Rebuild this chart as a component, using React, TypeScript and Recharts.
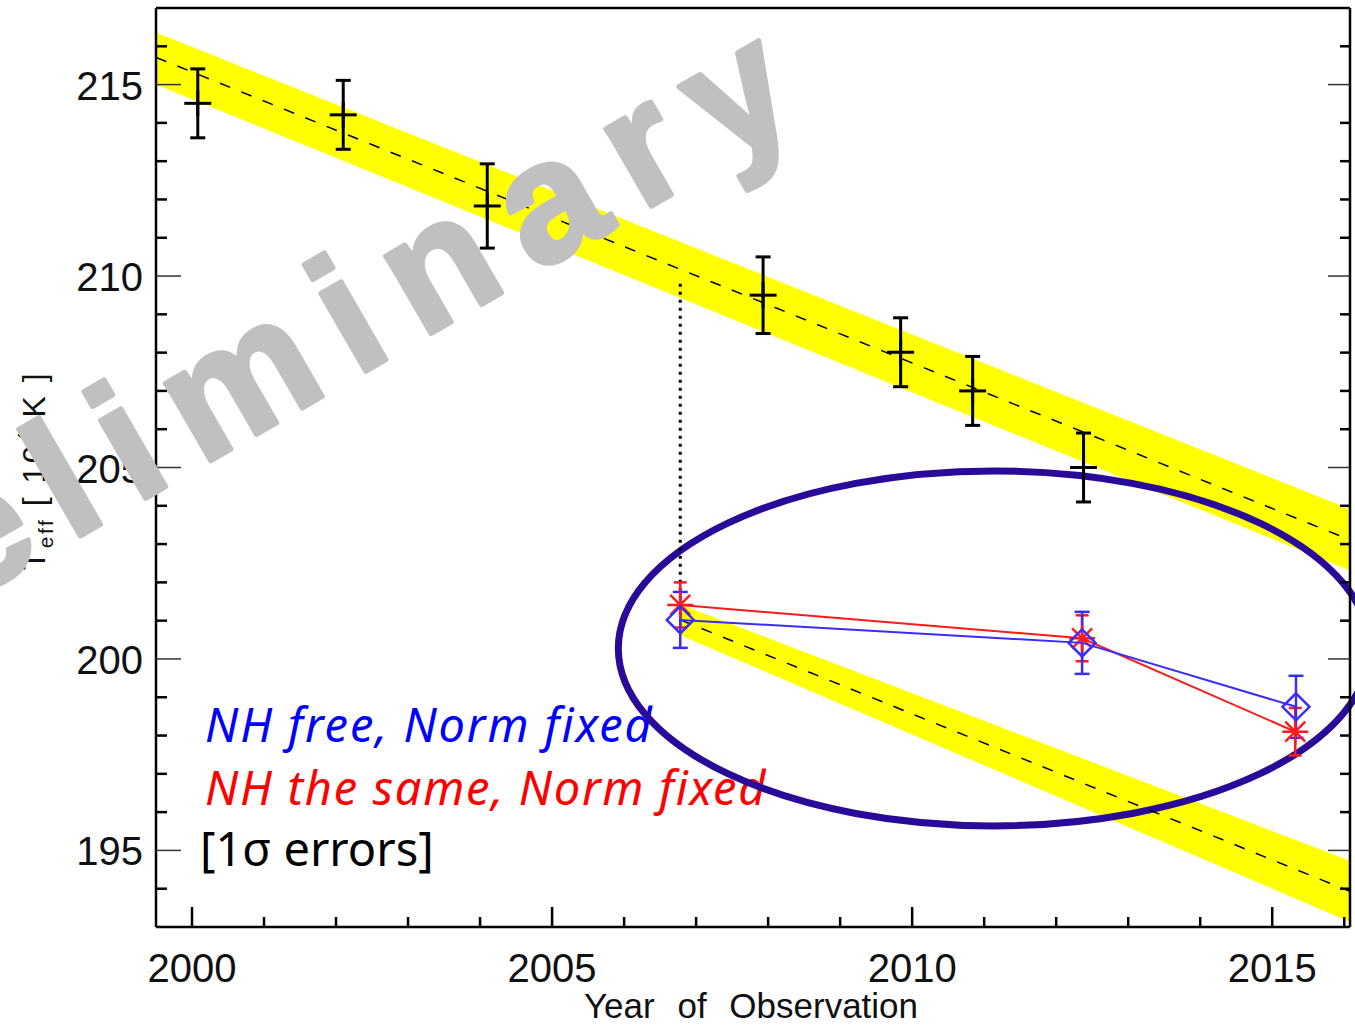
import React from 'react';
import {
  ComposedChart, XAxis, YAxis, Line, Area, Scatter, ErrorBar, ReferenceLine, ReferenceArea,
} from 'recharts';

const W = 1355;
const H = 1026;

// axis ticks
const yearTicks = [2000, 2001, 2002, 2003, 2004, 2005, 2006, 2007, 2008, 2009, 2010, 2011, 2012, 2013, 2014, 2015, 2016];
const teffTicks = [194, 195, 196, 197, 198, 199, 200, 201, 202, 203, 204, 205, 206, 207, 208, 209, 210, 211, 212, 213, 214, 215, 216];

// black points (all observations)
const obsYears = [2000.08, 2002.1, 2004.1, 2007.93, 2009.84, 2010.84, 2012.38];
const obsTeff = [214.51, 214.21, 211.83, 209.5, 208.01, 207.0, 205.0];
const obsErr = [0.9, 0.9, 1.1, 1.0, 0.9, 0.9, 0.9];

// NH free, Norm fixed (blue)
const freeYears = [2006.78, 2012.36, 2015.33];
const freeTeff = [201.02, 200.42, 198.75];
const freeErr = [0.73, 0.81, 0.81];

// NH the same, Norm fixed (red)
const sameYears = [2006.78, 2012.36, 2015.32];
const sameTeff = [201.41, 200.54, 198.1];
const sameErr = [0.59, 0.6, 0.62];

// linear fit + band
const upperYears = [1999.5, 2016.08];
const upperFit = [215.71, 203.11];
const upperLo = [215.0, 202.31];
const upperHi = [216.36, 203.91];

// same fit shifted to the 2006 point
const lowerYears = [2006.78, 2016.08];
const lowerFit = [201.02, 193.93];
const lowerLo = [200.62, 193.13];
const lowerHi = [201.42, 194.73];

// dotted drop line and the circled region
const dropYear = 2006.78;
const dropFrom = 209.8;
const dropTo = 201.0;
const ringYears = [2005.92, 2016.35];
const ringTeff = [195.64, 204.91];

const X_DOMAIN = [1999.5, 2016.08];
const Y_DOMAIN = [193, 217];

const pts = (xs: number[], ys: number[], es: number[]) =>
  xs.map((year, i) => ({ year, v: ys[i], e: es[i] }));

const fitRows = (() => {
  const years = Array.from(new Set([...upperYears, ...lowerYears])).sort((a, b) => a - b);
  return years.map((year) => {
    const row: any = { year };
    const i = upperYears.indexOf(year);
    if (i >= 0) {
      row.fit = upperFit[i];
      row.band = [upperLo[i], upperHi[i]];
    }
    const j = lowerYears.indexOf(year);
    if (j >= 0) {
      row.fit2 = lowerFit[j];
      row.band2 = [lowerLo[j], lowerHi[j]];
    }
    return row;
  });
})();

const tickFont = {
  fontFamily: '"Liberation Sans", Arial, sans-serif',
  fontSize: 40,
  fill: '#111',
};

const BottomTick = ({ x, y, payload }: any) => {
  const major = payload.value % 5 === 0;
  return (
    <g>
      <line x1={x} x2={x} y1={y} y2={y - (major ? 20 : 10)} stroke="#000" strokeWidth={2.5} />
      {major && (
        <text x={x} y={y + 55} textAnchor="middle" {...tickFont}>{payload.value}</text>
      )}
    </g>
  );
};

const TopTick = ({ x, y, payload }: any) => {
  const major = payload.value % 5 === 0;
  return <line x1={x} x2={x} y1={y} y2={y + (major ? 19 : 8)} stroke="#000" strokeWidth={2.5} />;
};

const LeftTick = ({ x, y, payload }: any) => {
  const major = payload.value % 5 === 0;
  return (
    <g>
      <line
        x1={x} x2={x + (major ? 25 : 11)} y1={y} y2={y}
        stroke={major ? '#333' : '#000'} strokeWidth={major ? 1.5 : 2.5}
      />
      {major && (
        <text x={x - 13} y={y + 15} textAnchor="end" {...tickFont}>{payload.value}</text>
      )}
    </g>
  );
};

const RightTick = ({ x, y, payload }: any) => {
  const major = payload.value % 5 === 0;
  return (
    <line
      x1={x} x2={x - (major ? 22 : 10)} y1={y} y2={y}
      stroke={major ? '#333' : '#000'} strokeWidth={major ? 1.5 : 2.5}
    />
  );
};

const PlusMark = ({ cx, cy }: any) => (
  <g stroke="#000" strokeWidth={3}>
    <line x1={cx - 13.5} x2={cx + 13.5} y1={cy} y2={cy} />
    <line x1={cx} x2={cx} y1={cy - 13} y2={cy + 13} />
  </g>
);

const DiamondMark = ({ cx, cy }: any) => (
  <path
    d={`M${cx},${cy - 13.5}L${cx + 13.5},${cy}L${cx},${cy + 13.5}L${cx - 13.5},${cy}Z`}
    fill="none" stroke="#3a2bff" strokeWidth={2.5}
  />
);

const StarMark = ({ cx, cy }: any) => (
  <g stroke="#ff1a1a" strokeWidth={2.5}>
    <line x1={cx - 13} x2={cx + 13} y1={cy} y2={cy} />
    <line x1={cx} x2={cx} y1={cy - 13} y2={cy + 13} />
    <line x1={cx - 10} x2={cx + 10} y1={cy - 10} y2={cy + 10} />
    <line x1={cx - 10} x2={cx + 10} y1={cy + 10} y2={cy - 10} />
  </g>
);

const Ring = ({ x, y, width, height }: any) => (
  <ellipse
    cx={x + width / 2} cy={y + height / 2} rx={Math.abs(width) / 2} ry={Math.abs(height) / 2}
    fill="none" stroke="#2a0a98" strokeWidth={7}
  />
);

const XTitle = ({ viewBox }: any) => (
  <text
    x={viewBox.x + viewBox.width / 2 - 2} y={viewBox.y + viewBox.height - 8}
    textAnchor="middle" fontFamily='"Liberation Sans", Arial, sans-serif'
    fontSize={35} fill="#111" style={{ wordSpacing: 13 }}
  >
    Year of Observation
  </text>
);

const YTitle = ({ viewBox }: any) => {
  const x = viewBox.x + 45;
  const y = viewBox.y + viewBox.height / 2 + 3;
  return (
    <text
      x={x} y={y} transform={`rotate(-90, ${x}, ${y})`} textAnchor="middle"
      fontFamily='"Liberation Sans", Arial, sans-serif' fontSize={32} fill="#111"
      style={{ letterSpacing: 2.5 }}
    >
      T
      <tspan fontSize={21} dy={8}>eff</tspan>
      <tspan dy={-8}> [ 10</tspan>
      <tspan fontSize={21} dy={-13}>4</tspan>
      <tspan dy={13}> K ]</tspan>
    </text>
  );
};

export default function App() {
  const legendFont = '"Noto Sans", "Open Sans", sans-serif';
  return (
    <div style={{ position: 'absolute', left: 0, top: 0, width: W, height: H, background: '#fff', overflow: 'hidden' }}>
      <svg width={W} height={H} style={{ position: 'absolute', left: 0, top: 0 }}>
        <text
          x={205} y={742} fontFamily={legendFont} fontStyle="italic" fontSize={47} fill="#0000ff"
          style={{ letterSpacing: 1.9 }}
        >
          NH free, Norm fixed
        </text>
        <text
          x={205} y={805} fontFamily={legendFont} fontStyle="italic" fontSize={47} fill="#ff0000"
          style={{ letterSpacing: 1.7 }}
        >
          NH the same, Norm fixed
        </text>
        <text x={200} y={866} fontFamily={legendFont} fontSize={47} fill="#000">
          [1σ errors]
        </text>
      </svg>

      <div style={{ position: 'absolute', left: 0, top: 0 }}>
        <ComposedChart width={W} height={H} data={fitRows} margin={{ top: 7, right: 4, bottom: 0, left: 0 }}>
          <XAxis
            xAxisId="b" dataKey="year" type="number" domain={X_DOMAIN} allowDataOverflow
            ticks={yearTicks} interval={0} height={99} tickSize={0} tickMargin={0} tickLine={false}
            axisLine={{ stroke: '#000', strokeWidth: 2.5 }} tick={<BottomTick />}
            label={{ content: (p: any) => <XTitle {...p} /> }}
          />
          <XAxis
            xAxisId="t" orientation="top" type="number" domain={X_DOMAIN} allowDataOverflow
            ticks={yearTicks} interval={0} height={1} tickSize={0} tickMargin={0} tickLine={false}
            axisLine={{ stroke: '#000', strokeWidth: 2.5 }} tick={<TopTick />}
          />
          <YAxis
            yAxisId="l" type="number" domain={Y_DOMAIN} allowDataOverflow
            ticks={teffTicks} interval={0} width={156} tickSize={0} tickMargin={0} tickLine={false}
            axisLine={{ stroke: '#000', strokeWidth: 2.5 }} tick={<LeftTick />}
            label={{ content: (p: any) => <YTitle {...p} /> }}
          />
          <YAxis
            yAxisId="r" orientation="right" type="number" domain={Y_DOMAIN} allowDataOverflow
            ticks={teffTicks} interval={0} width={1} tickSize={0} tickMargin={0} tickLine={false}
            axisLine={{ stroke: '#000', strokeWidth: 2.5 }} tick={<RightTick />}
          />

          <Area
            xAxisId="b" yAxisId="l" dataKey="band" type="linear" connectNulls
            fill="#ffff00" fillOpacity={1} stroke="none" isAnimationActive={false}
          />
          <Area
            xAxisId="b" yAxisId="l" dataKey="band2" type="linear" connectNulls
            fill="#ffff00" fillOpacity={1} stroke="none" isAnimationActive={false}
          />
          <Line
            xAxisId="b" yAxisId="l" dataKey="fit" type="linear" connectNulls dot={false}
            stroke="#000" strokeWidth={1.5} strokeDasharray="11 12" isAnimationActive={false}
          />
          <Line
            xAxisId="b" yAxisId="l" dataKey="fit2" type="linear" connectNulls dot={false}
            stroke="#000" strokeWidth={1.5} strokeDasharray="11 12" isAnimationActive={false}
          />
          <ReferenceLine
            xAxisId="b" yAxisId="l" ifOverflow="visible"
            segment={[{ x: dropYear, y: dropFrom }, { x: dropYear, y: dropTo }]}
            stroke="#000" strokeWidth={3} strokeDasharray="3 5"
          />
          <ReferenceArea
            xAxisId="b" yAxisId="l" ifOverflow="visible"
            x1={ringYears[0]} x2={ringYears[1]} y1={ringTeff[0]} y2={ringTeff[1]}
            shape={(p: any) => <Ring {...p} />}
          />

          <Scatter
            xAxisId="b" yAxisId="l" data={pts(sameYears, sameTeff, sameErr)} dataKey="v"
            line={{ stroke: '#ff1a1a', strokeWidth: 2 }} shape={<StarMark />} isAnimationActive={false}
          >
            <ErrorBar dataKey="e" direction="y" width={6.5} stroke="#ff1a1a" strokeWidth={2.5} />
          </Scatter>
          <Scatter
            xAxisId="b" yAxisId="l" data={pts(freeYears, freeTeff, freeErr)} dataKey="v"
            line={{ stroke: '#3a2bff', strokeWidth: 2 }} shape={<DiamondMark />} isAnimationActive={false}
          >
            <ErrorBar dataKey="e" direction="y" width={7.5} stroke="#3a2bff" strokeWidth={2.5} />
          </Scatter>
          <Scatter
            xAxisId="b" yAxisId="l" data={pts(obsYears, obsTeff, obsErr)} dataKey="v"
            shape={<PlusMark />} isAnimationActive={false}
          >
            <ErrorBar dataKey="e" direction="y" width={7.5} stroke="#000" strokeWidth={3} />
          </Scatter>
        </ComposedChart>
      </div>

      <svg width={W} height={H} style={{ position: 'absolute', left: 0, top: 0, pointerEvents: 'none' }}>
        <text
          x={-240} y={721} transform="rotate(-30, -240, 721)"
          fontFamily='"Liberation Sans", Arial, sans-serif' fontWeight="bold" fontSize={170}
          fill="#c0c0c0" stroke="#c0c0c0" strokeWidth={5} strokeLinejoin="round"
          style={{ letterSpacing: 28 }}
        >
          Preliminary
        </text>
      </svg>
    </div>
  );
}
